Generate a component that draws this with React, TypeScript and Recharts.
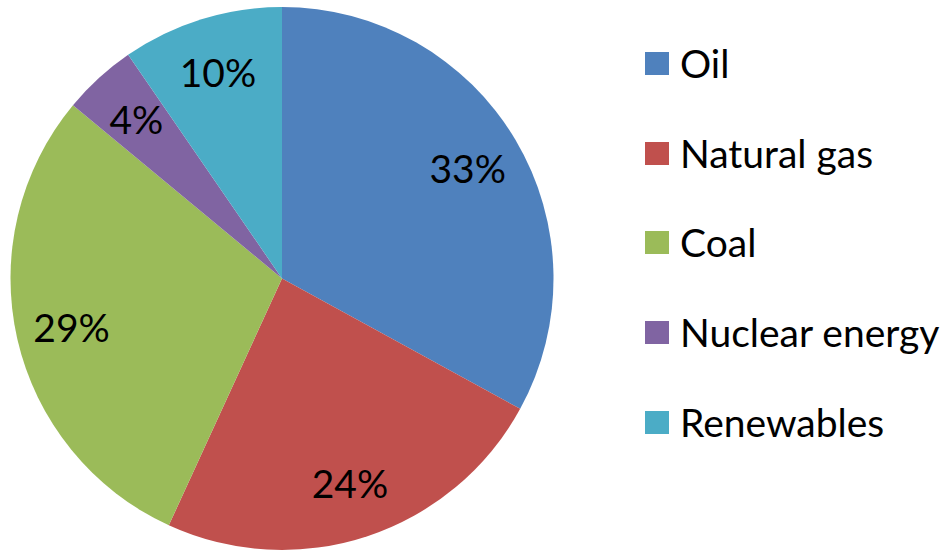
import React from "react";
import { PieChart, Pie, Cell, Legend } from "recharts";

const categories = ["Oil", "Natural gas", "Coal", "Nuclear energy", "Renewables"];
const shares = [33.0, 23.9, 29.2, 4.4, 9.6];
const colors = ["#4F81BD", "#C0504D", "#9BBB59", "#8064A2", "#4BACC6"];

const data = categories.map((name, i) => ({ name, value: shares[i] }));

const FONT = "Lato, 'Open Sans', sans-serif";
const RADIAN = Math.PI / 180;

const renderLabel = (props: any) => {
  const { cx, cy, midAngle, outerRadius, percent } = props;
  const r = outerRadius * 0.795;
  const x = cx + r * Math.cos(-midAngle * RADIAN);
  const y = cy + r * Math.sin(-midAngle * RADIAN);
  return (
    <text x={x} y={y} fill="#000" textAnchor="middle" dominantBaseline="central" fontSize={39} fontFamily={FONT}>
      {`${Math.round(percent * 100)}%`}
    </text>
  );
};

const renderLegend = () => (
  <div style={{ fontFamily: FONT, fontSize: 39, color: "#000" }}>
    {categories.map((c, i) => (
      <div key={c} style={{ display: "flex", alignItems: "center", height: 89.6 }}>
        <div style={{ width: 24, height: 23, background: colors[i], marginRight: 11 }} />
        <span style={{ lineHeight: 1 }}>{c}</span>
      </div>
    ))}
  </div>
);

export default function App() {
  return (
    <div style={{ position: "absolute", left: 0, top: 0 }}>
      <PieChart width={945} height={551} margin={{ top: 0, right: 0, bottom: 0, left: 0 }}>
        <Pie
          data={data}
          dataKey="value"
          nameKey="name"
          cx={282}
          cy={278.5}
          outerRadius={271.5}
          startAngle={90}
          endAngle={-270}
          stroke="none"
          label={renderLabel}
          labelLine={false}
          isAnimationActive={false}
        >
          {data.map((d, i) => (
            <Cell key={d.name} fill={colors[i]} />
          ))}
        </Pie>
        <Legend
          layout="vertical"
          align="right"
          verticalAlign="top"
          content={renderLegend}
          wrapperStyle={{ position: "absolute", left: 645, top: 19, width: 300 }}
        />
      </PieChart>
    </div>
  );
}
